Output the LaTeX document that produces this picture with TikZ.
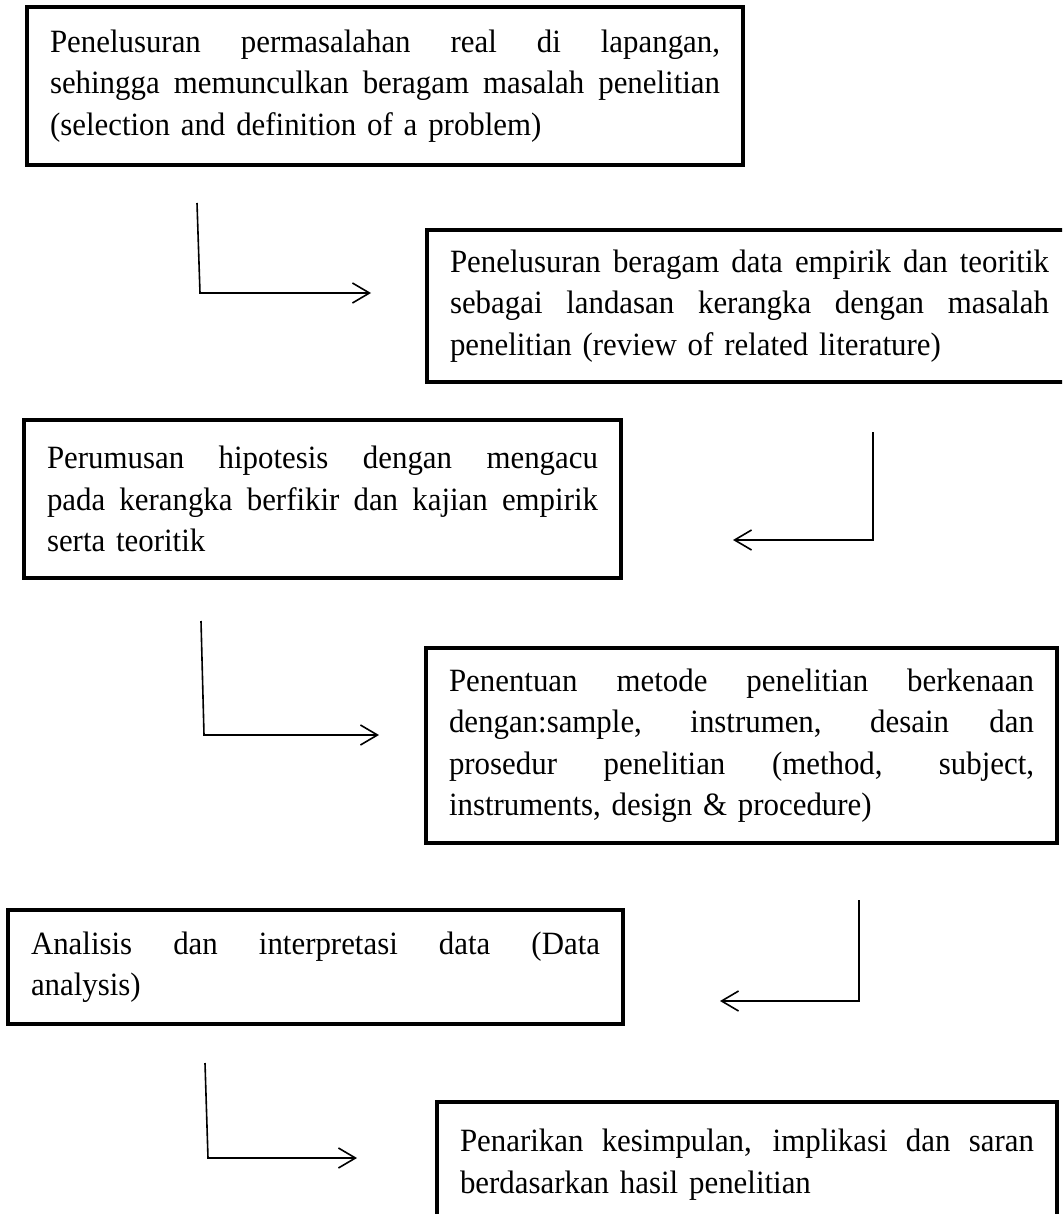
\documentclass[tikz,border=0pt]{standalone}
\usepackage{fontspec}
\setmainfont[FakeStretch=0.95]{Liberation Serif}
\usetikzlibrary{arrows.meta}
\newcommand\jline[2]{\leavevmode\hbox to #1{\spaceskip=0.25em plus 1fil\relax #2}}
\begin{document}
\begin{tikzpicture}[x=1pt,y=-1pt,
  box/.style={draw, line width=4.5pt, rectangle, anchor=north west, outer sep=0pt,
    inner xsep=23pt, inner ysep=0pt, align=left,
    font=\fontsize{32.5}{41.5}\selectfont},
  conn/.style={line width=1.6pt, -{Straight Barb[length=17pt,width=20pt]}}]
\path[use as bounding box, fill=white] (0,0) rectangle (1062,1214);
\clip (0,0) rectangle (1062,1214);

\node[box, minimum width=716pt, minimum height=158pt, text width=670pt] (b1) at (27,7)
 {\jline{670pt}{Penelusuran permasalahan real di lapangan,}\\
  \jline{670pt}{sehingga memunculkan beragam masalah penelitian}\\
  (selection and definition of a problem)};

\node[box, minimum width=645pt, minimum height=152pt, text width=599pt] (b2) at (427,230)
 {\jline{599pt}{Penelusuran beragam data empirik dan teoritik}\\
  \jline{599pt}{sebagai landasan kerangka dengan masalah}\\
  penelitian (review of related literature)};

\node[box, minimum width=597pt, minimum height=158pt, text width=551pt] (b3) at (24,420)
 {\jline{551pt}{Perumusan hipotesis dengan mengacu}\\
  \jline{551pt}{pada kerangka berfikir dan kajian empirik}\\
  serta teoritik};

\node[box, minimum width=631pt, minimum height=195pt, text width=585pt] (b4) at (426,648)
 {\jline{585pt}{Penentuan metode penelitian berkenaan}\\
  \jline{585pt}{dengan:sample, instrumen, desain dan}\\
  \jline{585pt}{prosedur penelitian (method, subject,}\\
  instruments, design \& procedure)};

\node[box, minimum width=615pt, minimum height=114pt, text width=569pt] (b5) at (8,910)
 {\jline{569pt}{Analisis dan interpretasi data (Data}\\
  analysis)};

\node[box, minimum width=620pt, minimum height=125pt, text width=574pt] (b6) at (437,1102)
 {\jline{574pt}{Penarikan kesimpulan, implikasi dan saran}\\
  berdasarkan hasil penelitian};

% connectors
\coordinate (a1s) at (197,203);  \coordinate (a1c) at (200,293);  \coordinate (a1e) at (371,293);
\coordinate (a2s) at (873,432);  \coordinate (a2c) at (873,540);  \coordinate (a2e) at (733,540);
\coordinate (a3s) at (201,621);  \coordinate (a3c) at (204,735);  \coordinate (a3e) at (379,735);
\coordinate (a4s) at (859,900);  \coordinate (a4c) at (859,1001); \coordinate (a4e) at (720,1001);
\coordinate (a5s) at (205,1063); \coordinate (a5c) at (208,1158); \coordinate (a5e) at (357,1158);

\draw[conn] (a1s) -- (a1c) -- (a1e);
\draw[conn] (a2s) -- (a2c) -- (a2e);
\draw[conn] (a3s) -- (a3c) -- (a3e);
\draw[conn] (a4s) -- (a4c) -- (a4e);
\draw[conn] (a5s) -- (a5c) -- (a5e);
\end{tikzpicture}
\end{document}
